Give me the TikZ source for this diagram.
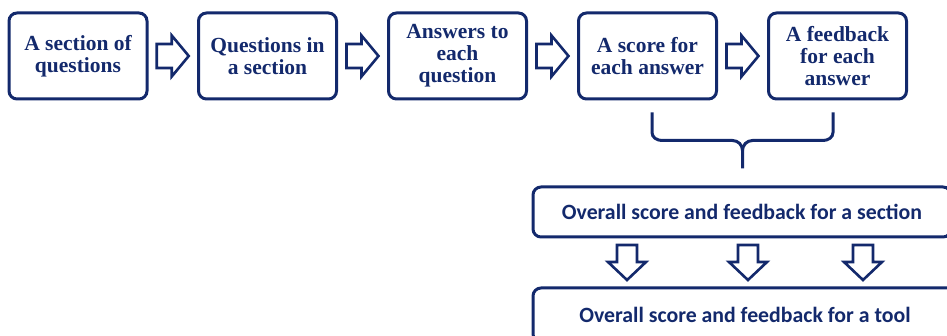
\documentclass[tikz,border=0pt]{standalone}
\usepackage{fontspec}
\setmainfont{Liberation Serif}
\newfontfamily\calib{Carlito}
\usetikzlibrary{calc}
\definecolor{navy}{HTML}{13296C}
\tikzset{
  box/.style={draw=navy, line width=3pt, rounded corners=8pt, align=center,
    text=navy, inner sep=0pt},
  topbox/.style={box, minimum width=138pt, minimum height=86pt,
    font=\bfseries\fontsize{21.5}{22}\selectfont},
  widebox/.style={box, font=\calib\bfseries\fontsize{21.8}{24}\selectfont},
  blockarrow/.style={draw=navy, line width=2.6pt, line join=miter, fill=white},
  brace/.style={draw=navy, line width=3pt}
}
\begin{document}
\begin{tikzpicture}[x=1pt, y=-1pt]
\useasboundingbox (0,0) rectangle (947,336);
\clip (0,0) rectangle (947,336);

% step boxes along the top row
\node[topbox] (b1) at (78,56)    {A section of\\questions};
\node[topbox] (b2) at (267.5,56) {Questions in\\a section};
\node[topbox] (b3) at (457.5,56) {Answers to\\each\\question};
\node[topbox] (b4) at (647.5,56) {A score for\\each answer};
\node[topbox] (b5) at (837.5,56) {A feedback\\for each\\answer};

% summary boxes, running off the right edge
\node[widebox, minimum width=418pt, minimum height=50pt] (b6) at (742,212)
  {Overall score and feedback for a section};
\node[widebox, minimum width=424pt, minimum height=54pt] (b7) at (745,315)
  {Overall score and feedback for a tool};

% hollow block arrows between the top boxes
\foreach \a/\b in {b1/b2, b2/b3, b3/b4, b4/b5} {
  \coordinate (m-\a) at ($(\a.east)!0.5!(\b.west)$);
  \draw[blockarrow] ($(m-\a)+(-16,-12)$) -- ++(15,0) -- ++(0,-8.5)
    -- ($(m-\a)+(16,0)$) -- ($(m-\a)+(-1,20.5)$) -- ++(0,-8.5)
    -- ++(-15,0) -- cycle;
}

% three downward block arrows between the summary boxes
\foreach \x/\n in {627/d1, 748/d2, 863/d3} {
  \coordinate (\n) at ($(b6.south)!(\x,0)!(b6.south east)$);
  \coordinate (\n) at ($(\n)!0.5!(\n |- b7.north)$);
  \draw[blockarrow] ($(\n)+(-10,-17.5)$) -- ++(20,0) -- ++(0,17)
    -- ++(9,0) -- ($(\n)+(0,17.5)$) -- ($(\n)+(-19,-0.5)$) -- ++(9,0)
    -- cycle;
}

% curly brace gathering the score and feedback boxes
\coordinate (bl) at ($(b4.south)+(4.5,12)$);
\coordinate (br) at ($(b5.south)+(-4.5,12)$);
\coordinate (bc) at ($(bl)!0.5!(br)$);
\coordinate (tip) at ($(bc)+(0,56)$);
\draw[brace] (bl) -- ++(0,20) to[out=-90,in=180] ++(10,8) -- ($(bc)+(-10,28)$)
  to[out=0,in=90] ($(bc)+(0,38)$) -- (tip);
\draw[brace] (br) -- ++(0,20) to[out=-90,in=0] ++(-10,8) -- ($(bc)+(10,28)$)
  to[out=180,in=90] ($(bc)+(0,38)$);
\end{tikzpicture}
\end{document}
